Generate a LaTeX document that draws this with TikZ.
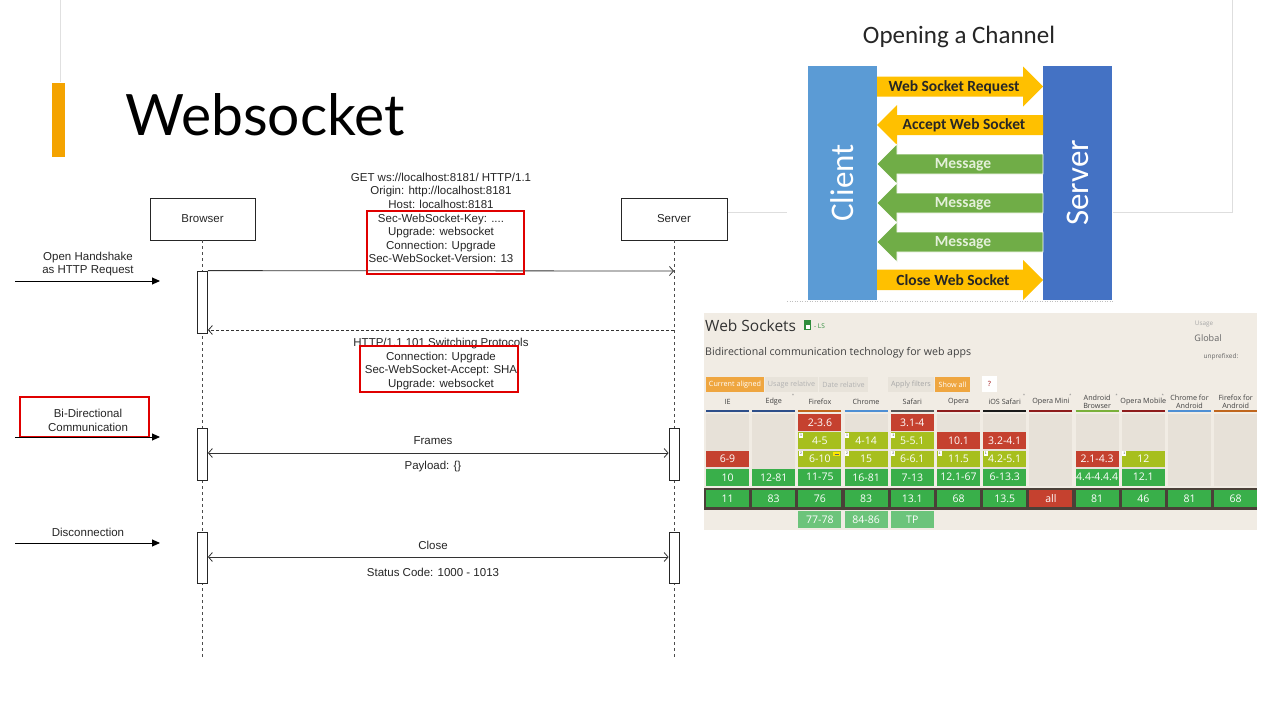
\documentclass[tikz,border=0pt]{standalone}
\usepackage{fontspec}
\setmainfont{Liberation Sans}
\newfontfamily\titlefont{Lato}
\newfontfamily\calfont{Carlito}
\newfontfamily\osfont{Open Sans}
\usetikzlibrary{arrows.meta}
\definecolor{slideorange}{HTML}{F4A300}
\definecolor{hlred}{HTML}{E00000}
\definecolor{chyel}{HTML}{FFC000}
\definecolor{chgreen}{HTML}{70AD47}
\definecolor{chclient}{HTML}{5B9BD5}
\definecolor{chserver}{HTML}{4472C4}
\definecolor{chgtext}{HTML}{E4F0DA}
\definecolor{ciubg}{HTML}{F1ECE4}
\definecolor{ciuempty}{HTML}{E7E1D8}
\definecolor{ciuband}{HTML}{4A4038}
\definecolor{ciured}{HTML}{C5412F}
\definecolor{ciulime}{HTML}{A7BF1E}
\definecolor{ciugreen}{HTML}{39AF4A}
\definecolor{ciufut}{HTML}{6CC47B}
\definecolor{ciuorange}{HTML}{EFA640}
\definecolor{ciubtn}{HTML}{E8E3DA}
\definecolor{ulblue}{HTML}{2E4F8A}
\definecolor{ulorange}{HTML}{C0661D}
\definecolor{ullight}{HTML}{4E8FD4}
\definecolor{ulgray}{HTML}{555555}
\definecolor{ulred}{HTML}{8E1C1C}
\definecolor{ulblack}{HTML}{1A1A1A}
\definecolor{ulgreen}{HTML}{7AB03A}
\begin{document}
\begin{tikzpicture}[x=1pt,y=-1pt,
  seqlabel/.style={font=\fontsize{11.5}{13.6}\selectfont, text=black!85, align=center, inner sep=0pt},
  actor/.style={draw=black!85, line width=0.8pt, fill=white, font=\fontsize{11.5}{13.6}\selectfont, text=black!85, minimum height=42pt, inner sep=0pt},
  actbar/.style={draw=black!85, line width=0.8pt, fill=white, minimum width=10pt, inner sep=0pt},
  lifeline/.style={draw=black!70, line width=0.7pt, dash pattern=on 3pt off 3pt},
  msg/.style={draw=black!80, line width=0.8pt, -{Straight Barb[length=4pt,width=9pt]}},
  bimsg/.style={draw=black!80, line width=0.8pt, {Straight Barb[length=4pt,width=9pt]}-{Straight Barb[length=4pt,width=9pt]}},
  inarrow/.style={draw=black, line width=0.9pt, -{Triangle[length=8pt,width=7pt]}},
  hlbox/.style={draw=hlred, line width=2pt},
  chlabel/.style={font=\calfont\bfseries\fontsize{15.5}{16}\selectfont, inner sep=0pt},
  ciucell/.style={minimum width=43pt, minimum height=16.8pt, inner sep=0pt, text=white, font=\osfont\fontsize{10.5}{11}\selectfont},
  ciuhead/.style={font=\osfont\fontsize{7.2}{7.8}\selectfont, text=black!75, align=center, inner sep=0pt},
  ciubtnlabel/.style={font=\osfont\fontsize{7.2}{8}\selectfont, inner sep=0pt},
  note/.style={fill=white, minimum width=4pt, minimum height=5pt, inner sep=0pt, font=\fontsize{3.5}{4}\selectfont, text=black!70}
]
\useasboundingbox (0,0) rectangle (1280,720);
\fill[white] (0,0) rectangle (1280,720);

% ---------- slide title ----------
\draw[black!12, line width=0.8pt] (60,0) -- (60,82);
\fill[slideorange] (52,83) rectangle (65,157);
\node[anchor=base west, inner sep=0pt, font=\titlefont\fontsize{57}{57}\selectfont] (title) at (125,135) {Websocket};

% ---------- frame behind channel picture ----------
\draw[black!13, line width=0.8pt] (727,212) -- (1232,212) -- (1232,0);
\fill[white] (787,48) rectangle (1113,301);
\draw[black!25, line width=0.5pt, dash pattern=on 1pt off 1.5pt] (787,301) -- (1113,301);

% ---------- Opening a Channel ----------
\node[font=\calfont\fontsize{25}{26}\selectfont, text=black!85, inner sep=0pt] (chtitle) at (959,37) {Opening a Channel};
\fill[chclient] (808,66) rectangle (877,300);
\fill[chserver] (1043,66) rectangle (1112,300);
\node[rotate=90, font=\calfont\fontsize{33}{34}\selectfont, text=white, inner sep=0pt] (client) at (842.5,183) {Client};
\node[rotate=90, font=\calfont\fontsize{33}{34}\selectfont, text=white, inner sep=0pt] (server2) at (1077.5,183) {Server};
% right arrows
\fill[chyel] (877,76.5) -- (1023,76.5) -- (1023,66.5) -- (1043,86.5) -- (1023,106.5) -- (1023,96.5) -- (877,96.5) -- cycle;
\node[chlabel, text=black!85] (a1) at (954,87) {Web Socket Request};
% left arrows
\fill[chyel] (1043,115) -- (897,115) -- (897,105) -- (877,125) -- (897,145) -- (897,135) -- (1043,135) -- cycle;
\node[chlabel, text=black!85] (a2) at (964,125.5) {Accept Web Socket};
\foreach \c/\nm in {164/m1,203/m2,242/m3}{
  \filldraw[fill=chgreen, draw=white, line width=0.6pt] (1043,\c-10) -- (897,\c-10) -- (897,\c-20) -- (877,\c) -- (897,\c+20) -- (897,\c+10) -- (1043,\c+10) -- cycle;
  \node[chlabel, text=chgtext] (\nm) at (963,\c+0.5) {Message};
}
\fill[chyel] (877,269.5) -- (1023,269.5) -- (1023,260) -- (1043,280) -- (1023,300) -- (1023,290) -- (877,290) -- cycle;
\node[chlabel, text=black!85] (a6) at (953,280.5) {Close Web Socket};

% ---------- sequence diagram ----------
\node[actor, minimum width=105pt] (browser) at (202.5,219) {Browser};
\node[actor, minimum width=106pt] (server) at (674,219) {Server};
\coordinate (bEnd) at (202.5,657);
\coordinate (sEnd) at (674,657);
\draw[lifeline] (browser) -- (bEnd);
\draw[lifeline] (server) -- (sEnd);

\node[actbar, minimum height=62pt] (ba1) at (202.5,302) {};
\node[actbar, minimum height=52pt] (ba2) at (202.5,454) {};
\node[actbar, minimum height=52pt] (sa2) at (674,454) {};
\node[actbar, minimum height=51pt] (ba3) at (202.5,557.5) {};
\node[actbar, minimum height=51pt] (sa3) at (674,557.5) {};

\coordinate (req) at (674,271);
\draw[msg] (ba1.north east) -- (req);
\coordinate (resp) at (674,330);
\draw[msg, dash pattern=on 3pt off 2pt] (resp) -- (ba1.east |- resp);
\draw[bimsg] (ba2.east |- 0,453) -- (sa2.west |- 0,453);
\draw[bimsg] (ba3.east |- 0,557) -- (sa3.west |- 0,557);

\node[seqlabel] (reqtxt) at (441,218) {GET ws://localhost:8181/ HTTP/1.1\\Origin: http://localhost:8181\\Host: localhost:8181\\Sec-WebSocket-Key: ....\\Upgrade: websocket\\Connection: Upgrade\\Sec-WebSocket-Version: 13};
\draw[hlbox] (367,211) rectangle (524,274);
\node[seqlabel] (resptxt) at (441,364) {HTTP/1.1 101 Switching Protocols\\Connection: Upgrade\\Sec-WebSocket-Accept: SHA\\Upgrade: websocket};
\draw[hlbox] (360,346) rectangle (518,392);

\node[seqlabel] (frames) at (433,440.5) {Frames};
\node[seqlabel] (payload) at (433,467) {Payload: \{\}};
\node[seqlabel] (close) at (433,545.5) {Close};
\node[seqlabel] (status) at (433,572) {Status Code: 1000 - 1013};

% left side labels
\node[seqlabel] (l1) at (88,264) {Open Handshake\\as HTTP Request};
\coordinate (l1a) at (15,281); \coordinate (l1b) at (160,281);
\draw[inarrow] (l1a) -- (l1b);
\node[seqlabel] (l2) at (88,420.5) {Bi-Directional\\Communication};
\draw[hlbox] (20,397) rectangle (149,437);
\coordinate (l2a) at (15,437); \coordinate (l2b) at (160,437);
\draw[inarrow] (l2a) -- (l2b);
\node[seqlabel] (l3) at (88,532) {Disconnection};
\coordinate (l3a) at (15,543); \coordinate (l3b) at (160,543);
\draw[inarrow] (l3a) -- (l3b);

% ---------- caniuse panel ----------
\fill[ciubg] (704,313) rectangle (1257,530);
\node[anchor=west, inner sep=0pt, font=\osfont\fontsize{15.5}{16}\selectfont, text=black!80] (ciutitle) at (705,326) {Web Sockets};
\fill[ciugreen!80!black] (804,320) rectangle (811,330);
\fill[white] (805.5,325) rectangle (809.5,328.5);
\node[anchor=west, inner sep=0pt, font=\osfont\fontsize{6.5}{7}\selectfont, text=ciugreen!80!black] (ls) at (814,326.5) {- LS};
\node[anchor=west, inner sep=0pt, font=\osfont\fontsize{10.6}{11}\selectfont, text=black!75] (ciusub) at (705,353) {Bidirectional communication technology for web apps};
\node[inner sep=0pt, font=\osfont\fontsize{6.3}{7}\selectfont, text=black!35] (usage) at (1204,324) {Usage};
\node[inner sep=0pt, font=\osfont\fontsize{9}{10}\selectfont, text=black!60] (global) at (1208,338.5) {Global};
\node[inner sep=0pt, font=\osfont\fontsize{6.5}{7}\selectfont, text=black!60] (unpref) at (1221,357) {unprefixed:};

% buttons
\fill[ciuorange] (706,377) rectangle (764,392);
\node[ciubtnlabel, text=white] (b1) at (735,384.5) {Current aligned};
\fill[ciubtn] (765,377) rectangle (818,392);
\node[ciubtnlabel, text=black!30] (b2) at (791.5,384.5) {Usage relative};
\fill[ciubtn] (819,377) rectangle (868,392);
\node[ciubtnlabel, text=black!30] (b3) at (843.5,384.5) {Date relative};
\fill[ciubtn] (888,377) rectangle (934,392);
\node[ciubtnlabel, text=black!35] (b4) at (911,384.5) {Apply filters};
\fill[ciuorange] (935,377) rectangle (970,392);
\node[ciubtnlabel, text=white] (b5) at (952.5,384.5) {Show all};
\fill[white] (982,376) rectangle (997,392);
\node[ciubtnlabel, text=red!60!black] (b6) at (989.5,383.5) {?};

% columns
\foreach \i/\lab/\ul/\star in {0/IE/ulblue/0,1/Edge/ulblue/1,2/Firefox/ulorange/0,3/Chrome/ullight/0,4/Safari/ulgray/0,5/Opera/ulred/0,6/iOS Safari/ulblack/1,7/Opera Mini/ulred/1,8/Android\\Browser/ulgreen/1,9/Opera Mobile/ulred/1,10/Chrome for\\Android/ullight/0,11/Firefox for\\Android/ulorange/0}{
  \pgfmathsetmacro{\xl}{706+46.2*\i}
  \pgfmathsetmacro{\xc}{\xl+21.5}
  \node[ciuhead] (h\i) at (\xc,402) {\lab};
  \draw[\ul, line width=1.8pt] (\xl,411) -- (\xl+43,411);
  \fill[ciuempty] (\xl,414) rectangle (\xl+43,486);
  \ifnum\star=1 \node[inner sep=0pt, font=\fontsize{5}{5}\selectfont, text=black!50] (st\i) at (\xl+41,396) {*};\fi
}
\fill[ciuband] (704,488) rectangle (1257,509.5);

% IE
\node[ciucell, fill=ciured] (c0r3) at (727.5,459) {6-9};
\node[ciucell, fill=ciugreen] (c0r4) at (727.5,477.25) {10};
\node[ciucell, fill=ciugreen] (c0c) at (727.5,498.75) {11};
% Edge
\node[ciucell, fill=ciugreen] (c1r4) at (773.7,477.25) {12-81};
\node[ciucell, fill=ciugreen] (c1c) at (773.7,498.75) {83};
% Firefox
\node[ciucell, fill=ciured] (c2r1) at (819.9,422.5) {2-3.6};
\node[ciucell, fill=ciulime] (c2r2) at (819.9,440.75) {4-5};
\node[ciucell, fill=ciulime] (c2r3) at (819.9,459) {6-10};
\node[ciucell, fill=ciugreen] (c2r4) at (819.9,477.25) {11-75};
\node[ciucell, fill=ciugreen] (c2c) at (819.9,498.75) {76};
\node[ciucell, fill=ciufut] (c2f) at (819.9,519.5) {77-78};
% Chrome
\node[ciucell, fill=ciulime] (c3r2) at (866.1,440.75) {4-14};
\node[ciucell, fill=ciulime] (c3r3) at (866.1,459) {15};
\node[ciucell, fill=ciugreen] (c3r4) at (866.1,477.25) {16-81};
\node[ciucell, fill=ciugreen] (c3c) at (866.1,498.75) {83};
\node[ciucell, fill=ciufut] (c3f) at (866.1,519.5) {84-86};
% Safari
\node[ciucell, fill=ciured] (c4r1) at (912.3,422.5) {3.1-4};
\node[ciucell, fill=ciulime] (c4r2) at (912.3,440.75) {5-5.1};
\node[ciucell, fill=ciulime] (c4r3) at (912.3,459) {6-6.1};
\node[ciucell, fill=ciugreen] (c4r4) at (912.3,477.25) {7-13};
\node[ciucell, fill=ciugreen] (c4c) at (912.3,498.75) {13.1};
\node[ciucell, fill=ciufut] (c4f) at (912.3,519.5) {TP};
% Opera
\node[ciucell, fill=ciured] (c5r2) at (958.5,440.75) {10.1};
\node[ciucell, fill=ciulime] (c5r3) at (958.5,459) {11.5};
\node[ciucell, fill=ciugreen] (c5r4) at (958.5,477.25) {12.1-67};
\node[ciucell, fill=ciugreen] (c5c) at (958.5,498.75) {68};
% iOS Safari
\node[ciucell, fill=ciured] (c6r2) at (1004.7,440.75) {3.2-4.1};
\node[ciucell, fill=ciulime] (c6r3) at (1004.7,459) {4.2-5.1};
\node[ciucell, fill=ciugreen] (c6r4) at (1004.7,477.25) {6-13.3};
\node[ciucell, fill=ciugreen] (c6c) at (1004.7,498.75) {13.5};
% Opera Mini
\node[ciucell, fill=ciured] (c7c) at (1050.9,498.75) {all};
% Android Browser
\node[ciucell, fill=ciured] (c8r3) at (1097.1,459) {2.1-4.3};
\node[ciucell, fill=ciugreen] (c8r4) at (1097.1,477.25) {4.4-4.4.4};
\node[ciucell, fill=ciugreen] (c8c) at (1097.1,498.75) {81};
% Opera Mobile
\node[ciucell, fill=ciulime] (c9r3) at (1143.3,459) {12};
\node[ciucell, fill=ciugreen] (c9r4) at (1143.3,477.25) {12.1};
\node[ciucell, fill=ciugreen] (c9c) at (1143.3,498.75) {46};
% Chrome / Firefox for Android
\node[ciucell, fill=ciugreen] (c10c) at (1189.5,498.75) {81};
\node[ciucell, fill=ciugreen] (c11c) at (1235.7,498.75) {68};

% note markers
\node[note] (n1) at (801,435.5) {1};
\node[note] (n2) at (801,453.5) {2};
\node[note] (n3) at (847.2,435.5) {1};
\node[note] (n4) at (847.2,453.5) {2};
\node[note] (n5) at (893.4,435.5) {1};
\node[note] (n6) at (893.4,453.5) {2};
\node[note] (n7) at (939.6,453.5) {1};
\node[note] (n8) at (985.8,453.5) {1};
\node[note] (n9) at (1124.4,453.5) {1};
\fill[yellow!90!orange] (833,451.5) rectangle (840,456);
\draw[black!60, line width=0.5pt] (834.5,453.75) -- (838.5,453.75);
\end{tikzpicture}
\end{document}
